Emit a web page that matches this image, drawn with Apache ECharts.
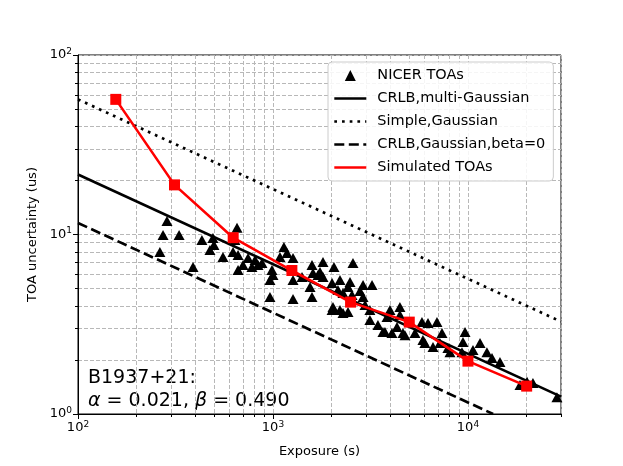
<!DOCTYPE html>
<html>
<head>
<meta charset="utf-8">
<script src="https://cdn.jsdelivr.net/npm/echarts@6/dist/echarts.min.js"></script>
<style>
  html, body { margin: 0; padding: 0; background: #fff; }
  #main { width: 623px; height: 466px; }
</style>
</head>
<body>
<div id="main"></div>
<script>
// NICER TOAs (exposure in s, TOA uncertainty in us)
const nicerExposure = [
  263, 273, 286, 330, 389, 432, 492, 498, 475, 554,
  654, 638, 624, 662, 745, 702, 662, 809, 838, 780,
  878, 1138, 1180, 1086, 988, 965, 1000, 1267, 965, 1267,
  1267, 1409, 1585, 1604, 1585, 1805, 1742, 1805, 2055, 2009,
  2206, 2483, 2572, 2154, 2286, 2009, 2206, 2425, 2542, 2793,
  3221, 2965, 3141, 3141, 3453, 3664, 3981, 4477, 4477, 4325,
  4642, 4074, 1702, 1549, 2897, 2031, 2286, 3845, 3752, 4753,
  5348, 5808, 6237, 6934, 7358, 7178, 6012, 6617, 8085, 9658,
  9427, 9317, 10610, 11530, 12510, 13280, 14590, 18490, 20090, 21540,
  28590, 2425, 2897, 5875, 7889
]
const nicerSigma = [
  7.99, 9.94, 11.9, 9.94, 6.59, 9.32, 9.56, 8.74, 8.20, 7.50,
  10.9, 9.32, 7.99, 7.69, 7.40, 6.76, 6.34, 7.21, 6.76, 6.59,
  6.94, 8.52, 7.89, 7.50, 6.34, 5.58, 5.95, 5.58, 4.49, 4.37,
  7.40, 5.80, 6.76, 6.10, 4.49, 7.03, 6.18, 5.80, 6.59, 5.37,
  5.58, 5.44, 6.94, 4.91, 4.72, 3.80, 3.80, 3.70, 4.60, 4.84,
  5.23, 4.05, 3.80, 3.34, 3.13, 2.86, 3.80, 3.95, 3.56, 3.05,
  2.83, 2.83, 5.95, 5.10, 4.49, 3.95, 3.65, 3.47, 2.86, 2.75,
  2.83, 3.25, 3.21, 3.25, 2.83, 2.49, 2.49, 2.36, 2.21, 2.86,
  2.52, 2.21, 2.27, 2.49, 2.21, 2.05, 1.95, 1.45, 1.51, 1.49,
  1.24, 5.10, 5.23, 2.58, 2.33
]

// model curves (end points)
const multiGaussX = [100, 30000]
const multiGaussY = [21.6, 1.25]
const simpleGaussX = [100, 30000]
const simpleGaussY = [56.6, 3.27]
const betaZeroX = [100, 13460]
const betaZeroY = [11.6, 1.0]

// simulated TOAs
const simExposure = [156.25, 312.5, 625, 1250, 2500, 5000, 10000, 20000]
const simSigma = [56.6, 18.9, 9.6, 6.3, 4.2, 3.25, 1.97, 1.43]

// ticks
const xMajor = [100, 1000, 10000]
const xMinor = [200, 300, 400, 500, 600, 700, 800, 900, 2000, 3000, 4000, 5000, 6000, 7000, 8000, 9000, 20000, 30000]
const yMajor = [1, 10, 100]
const yMinor = [2, 3, 4, 5, 6, 7, 8, 9, 20, 30, 40, 50, 60, 70, 80, 90]

const FONT = 'DejaVu Sans'
const zip = (xs, ys) => xs.map((x, i) => [x, ys[i]])

const powLabel = {
  formatter: (v) => '{b|10}{e|' + Math.round(Math.log10(v)) + '}',
  rich: {
    b: { fontSize: 13, fontFamily: FONT, color: '#000' },
    e: { fontSize: 9, fontFamily: FONT, color: '#000', padding: [0, 0, 7, 0] },
  },
}

const gridLine = {
  show: true,
  lineStyle: { color: '#b8b8b8', type: [4, 2], width: 1 },
}

// line entries in the legend: hide the centre symbol, keep the line
const lineOnly = (name) => ({ name, itemStyle: { opacity: 0 } })

const myEchart = echarts.init(document.querySelector('#main'))
myEchart.setOption({
  animation: false,
  backgroundColor: '#fff',
  grid: {
    left: 78,
    right: 62,
    top: 55,
    bottom: 52,
    show: true,
    borderColor: '#000',
    borderWidth: 1,
  },
  xAxis: [
    {
      type: 'log',
      min: 100,
      max: 30000,
      name: 'Exposure (s)',
      nameLocation: 'middle',
      nameGap: 31,
      nameTextStyle: { fontSize: 13, fontFamily: FONT, color: '#000' },
      axisLine: { show: true, lineStyle: { color: '#000', width: 1 } },
      axisTick: { show: true, inside: false, length: 5, customValues: xMajor, lineStyle: { color: '#000' } },
      axisLabel: { ...powLabel, customValues: xMajor, margin: 6 },
      splitLine: gridLine,
    },
    {
      type: 'log',
      min: 100,
      max: 30000,
      position: 'bottom',
      axisLine: { show: false },
      axisTick: { show: true, inside: false, length: 3, customValues: xMinor, lineStyle: { color: '#000' } },
      axisLabel: { show: false },
      splitLine: gridLine,
    },
  ],
  yAxis: [
    {
      type: 'log',
      min: 1,
      max: 100,
      name: 'TOA uncertainty (us)',
      nameLocation: 'middle',
      nameGap: 38,
      nameTextStyle: { fontSize: 13, fontFamily: FONT, color: '#000' },
      axisLine: { show: true, lineStyle: { color: '#000', width: 1 } },
      axisTick: { show: true, inside: false, length: 5, customValues: yMajor, lineStyle: { color: '#000' } },
      axisLabel: { ...powLabel, customValues: yMajor, margin: 6 },
      splitLine: gridLine,
    },
    {
      type: 'log',
      min: 1,
      max: 100,
      position: 'left',
      axisLine: { show: false },
      axisTick: { show: true, inside: false, length: 3, customValues: yMinor, lineStyle: { color: '#000' } },
      axisLabel: { show: false },
      splitLine: gridLine,
    },
  ],
  legend: {
    orient: 'vertical',
    left: 328,
    top: 62,
    padding: [6, 8, 6, 5],
    itemWidth: 32,
    itemHeight: 11,
    itemGap: 8,
    backgroundColor: 'rgba(255,255,255,0.85)',
    borderColor: '#cccccc',
    borderWidth: 1,
    borderRadius: 4,
    lineStyle: { width: 2.6 },
    textStyle: { fontSize: 14.5, fontFamily: FONT, color: '#000', lineHeight: 14, padding: [0, 0, 0, 6] },
    data: [
      { name: 'NICER TOAs', icon: 'path://M5,0 L10,10 L0,10 Z' },
      lineOnly('CRLB,multi-Gaussian'),
      lineOnly('Simple,Gaussian'),
      lineOnly('CRLB,Gaussian,beta=0'),
      lineOnly('Simulated TOAs'),
    ],
  },
  graphic: [
    {
      type: 'text',
      left: 88,
      top: 367,
      style: {
        text: 'B1937+21:\n{i|α} = 0.021, {i|β} = 0.490',
        fontSize: 19,
        fontFamily: FONT,
        lineHeight: 23,
        fill: '#000',
        rich: {
          i: { fontSize: 19, fontFamily: FONT, fontStyle: 'italic', lineHeight: 23 },
        },
      },
    },
  ],
  series: [
    {
      name: 'NICER TOAs',
      type: 'scatter',
      symbol: 'triangle',
      symbolSize: [11, 10],
      itemStyle: { color: '#000', opacity: 1 },
      data: zip(nicerExposure, nicerSigma),
      z: 3,
    },
    {
      name: 'CRLB,multi-Gaussian',
      type: 'line',
      symbol: 'none',
      lineStyle: { color: '#000', width: 2.6 },
      itemStyle: { color: '#000' },
      data: zip(multiGaussX, multiGaussY),
      z: 4,
    },
    {
      name: 'Simple,Gaussian',
      type: 'line',
      symbol: 'none',
      lineStyle: { color: '#000', width: 2.7, type: [2.7, 5] },
      itemStyle: { color: '#000' },
      data: zip(simpleGaussX, simpleGaussY),
      z: 4,
    },
    {
      name: 'CRLB,Gaussian,beta=0',
      type: 'line',
      symbol: 'none',
      lineStyle: { color: '#000', width: 2.7, type: [10, 4.5] },
      itemStyle: { color: '#000' },
      data: zip(betaZeroX, betaZeroY),
      z: 4,
    },
    {
      name: 'Simulated TOAs',
      type: 'line',
      symbol: 'none',
      lineStyle: { color: '#ff0000', width: 2.6 },
      itemStyle: { color: '#ff0000' },
      data: zip(simExposure, simSigma),
      z: 5,
    },
    {
      name: 'Simulated markers',
      type: 'scatter',
      symbol: 'rect',
      symbolSize: 11,
      itemStyle: { color: '#ff0000', opacity: 1 },
      data: zip(simExposure, simSigma),
      z: 6,
    },
  ],
})
</script>
</body>
</html>
